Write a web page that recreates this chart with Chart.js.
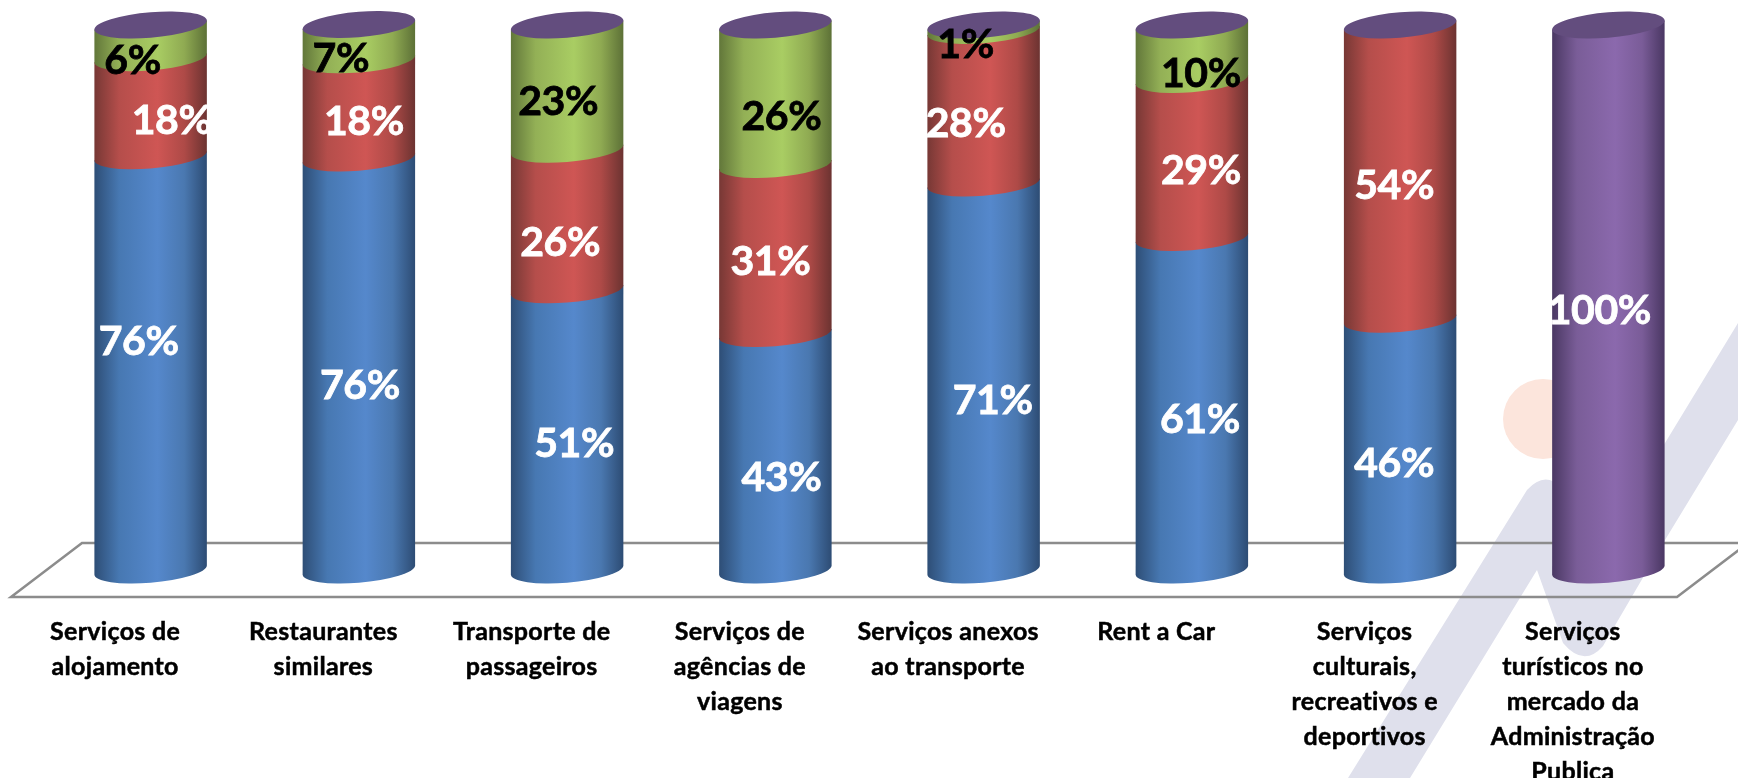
<!DOCTYPE html>
<html>
<head>
<meta charset="utf-8">
<style>
    html, body { margin: 0; padding: 0; background: #fff; overflow: hidden; }
    canvas { display: block; }
</style>
<script src="https://cdn.jsdelivr.net/npm/chart.js@4"></script>
</head>
<body>
<canvas id="chart_servicos" width="1738" height="778"></canvas>
<script>
const categories = [
    ['Serviços de', 'alojamento'],
    ['Restaurantes', 'similares'],
    ['Transporte de', 'passageiros'],
    ['Serviços de', 'agências de', 'viagens'],
    ['Serviços anexos', 'ao transporte'],
    ['Rent a Car'],
    ['Serviços', 'culturais,', 'recreativos e', 'deportivos'],
    ['Serviços', 'turísticos no', 'mercado da', 'Administração', 'Publica']
];

// stack from the bottom up
const serieAzul = [76, 75.6, 51.4, 43.4, 71, 61, 46, 0];
const serieVermelha = [18, 18, 25.8, 31, 28, 29, 54, 0];
const serieVerde = [6, 6.5, 22.8, 25.6, 1, 10, 0, 0];
const serieRoxa = [0, 0, 0, 0, 0, 0, 0, 100];

// label position relative to the middle of its segment, [x, y] per category
const shiftAzul = [[-12, -21], [1, 22], [7, 14], [6, 26], [9, 24], [8, 16], [-6, 19], [0, 0]];
const shiftVermelha = [[21, 14], [5, 13], [-7, 23], [-5, 13], [-18, 17], [9, 12], [-6, 14], [0, 0]];
const shiftVerde = [[-18, 19], [-18, 17], [-9, 15], [6, 22], [-18, 17], [9, 22], [0, 0], [0, 0]];
const shiftRoxa = [[0, 0], [0, 0], [0, 0], [0, 0], [0, 0], [0, 0], [0, 0], [-9, 13]];

const rampAzul = ['#2e4e76', '#4778b2', '#5588cc', '#4a78b0', '#2d4c74'];
const rampVermelha = ['#773835', '#b54e4b', '#cf5654', '#ae4a47', '#6c3331'];
const rampVerde = ['#62773a', '#93b056', '#a9cd63', '#8faa52', '#5d7137'];
const rampRoxa = ['#4a3863', '#7a5d98', '#8b69ad', '#7a5c98', '#4a3763'];

const topColor = '#634d7e';
const floorColor = '#8c8c8c';

// the cylinders stand in the middle of the depth of the floor
const floorDepthX = 71;
const floorDepthY = 54;
const tilt = -0.08;
const capHeight = 12.7;

const labelFont = '700 41px Lato';

function drawWatermark(ctx) {
    ctx.save();
    ctx.fillStyle = '#fce5dc';
    ctx.beginPath();
    ctx.arc(1543, 419, 40, 0, Math.PI * 2);
    ctx.fill();

    ctx.fillStyle = '#dfe0ec';
    ctx.beginPath();
    ctx.moveTo(1348, 778);
    ctx.lineTo(1527, 490);
    ctx.quadraticCurveTo(1545, 470, 1562, 488);
    ctx.lineTo(1612, 530);
    ctx.lineTo(1665, 443);
    ctx.lineTo(1738, 323);
    ctx.lineTo(1738, 420);
    ctx.lineTo(1665, 540);
    ctx.lineTo(1603, 646);
    ctx.quadraticCurveTo(1584, 668, 1563, 643);
    ctx.lineTo(1537, 570);
    ctx.lineTo(1410, 778);
    ctx.closePath();
    ctx.fill();
    ctx.restore();
}

function drawFloor(ctx, area) {
    ctx.save();
    ctx.strokeStyle = floorColor;
    ctx.lineWidth = 2.5;
    ctx.lineJoin = 'miter';
    ctx.beginPath();
    ctx.moveTo(area.left, area.bottom);
    ctx.lineTo(area.left + floorDepthX, area.bottom - floorDepthY);
    ctx.lineTo(area.right + floorDepthX, area.bottom - floorDepthY);
    ctx.lineTo(area.right, area.bottom);
    ctx.closePath();
    ctx.stroke();
    ctx.restore();
}

function drawSegment(ctx, bar, ramp) {
    const rx = bar.width / 2;
    const cx = bar.x + floorDepthX / 2;
    const top = bar.y - floorDepthY / 2;
    const base = bar.base - floorDepthY / 2;

    ctx.save();
    ctx.transform(1, tilt, 0, 1, cx, 0);
    const fill = ctx.createLinearGradient(-rx, 0, rx, 0);
    const stops = [0, 0.22, 0.56, 0.8, 1];
    ramp.forEach((c, i) => fill.addColorStop(stops[i], c));
    ctx.fillStyle = fill;
    ctx.beginPath();
    ctx.moveTo(-rx, top);
    ctx.lineTo(rx, top);
    ctx.lineTo(rx, base);
    ctx.ellipse(0, base, rx, capHeight, 0, 0, Math.PI);
    ctx.closePath();
    ctx.fill();
    ctx.restore();
}

function drawCap(ctx, bar) {
    ctx.save();
    ctx.transform(1, tilt, 0, 1, bar.x + floorDepthX / 2, 0);
    ctx.fillStyle = topColor;
    ctx.beginPath();
    ctx.ellipse(0, bar.y - floorDepthY / 2, bar.width / 2, capHeight, 0, 0, Math.PI * 2);
    ctx.fill();
    ctx.restore();
}

const cylinders = {
    id: 'cylinders',
    beforeDraw(chart) {
        drawWatermark(chart.ctx);
        drawFloor(chart.ctx, chart.chartArea);
        // a non zero spacing keeps Lato from joining "ti" into a ligature
        chart.ctx.letterSpacing = '0.3px';
    },
    beforeDatasetsDraw(chart) {
        const ctx = chart.ctx;
        const metas = chart.data.datasets.map((d, i) => chart.getDatasetMeta(i));

        metas.forEach((meta, i) => {
            meta.data.forEach((bar, j) => {
                if (chart.data.datasets[i].data[j] > 0) {
                    drawSegment(ctx, bar, chart.data.datasets[i].ramp);
                }
            });
        });

        categories.forEach((c, j) => {
            let last = null;
            metas.forEach((meta, i) => {
                if (chart.data.datasets[i].data[j] > 0) {
                    last = meta.data[j];
                }
            });
            drawCap(ctx, last);
        });

        // value labels go on top of every cylinder
        ctx.save();
        ctx.font = labelFont;
        ctx.letterSpacing = '-0.4px';
        ctx.textAlign = 'center';
        ctx.textBaseline = 'middle';
        ctx.lineWidth = 0.8;
        metas.forEach((meta, i) => {
            const set = chart.data.datasets[i];
            meta.data.forEach((bar, j) => {
                if (set.data[j] > 0) {
                    ctx.fillStyle = set.labelColor;
                    ctx.strokeStyle = set.labelColor;
                    const x = bar.x + floorDepthX / 2 + set.shift[j][0];
                    const y = (bar.y + bar.base) / 2 - floorDepthY / 2 + set.shift[j][1];
                    ctx.fillText(Math.round(set.data[j]) + '%', x, y);
                    ctx.strokeText(Math.round(set.data[j]) + '%', x, y);
                }
            });
        });
        ctx.restore();

        return false;
    }
};

new Chart(document.getElementById('chart_servicos'), {
    type: 'bar',
    plugins: [cylinders],
    data: {
        labels: categories,
        datasets: [
            { label: 'Azul', data: serieAzul, ramp: rampAzul, shift: shiftAzul, labelColor: '#fff', backgroundColor: rampAzul[2] },
            { label: 'Vermelha', data: serieVermelha, ramp: rampVermelha, shift: shiftVermelha, labelColor: '#fff', backgroundColor: rampVermelha[2] },
            { label: 'Verde', data: serieVerde, ramp: rampVerde, shift: shiftVerde, labelColor: '#000', backgroundColor: rampVerde[2] },
            { label: 'Roxa', data: serieRoxa, ramp: rampRoxa, shift: shiftRoxa, labelColor: '#fff', backgroundColor: rampRoxa[2] }
        ]
    },
    options: {
        responsive: false,
        animation: false,
        layout: { padding: { left: 11, right: 61, top: 52, bottom: 0 } },
        categoryPercentage: 1,
        barPercentage: 0.54,
        plugins: {
            legend: { display: false },
            tooltip: { enabled: false }
        },
        scales: {
            x: {
                stacked: true,
                afterFit: scale => { scale.height = 181; },
                grid: { display: false },
                border: { display: false },
                ticks: {
                    autoSkip: false,
                    maxRotation: 0,
                    padding: 9.5,
                    color: '#000',
                    textStrokeColor: '#000',
                    textStrokeWidth: 0.5,
                    font: { family: 'Lato', weight: 'bold', size: 25, lineHeight: '35px' }
                }
            },
            y: {
                stacked: true,
                display: false,
                min: 0,
                max: 100
            }
        }
    }
});
</script>
</body>
</html>
